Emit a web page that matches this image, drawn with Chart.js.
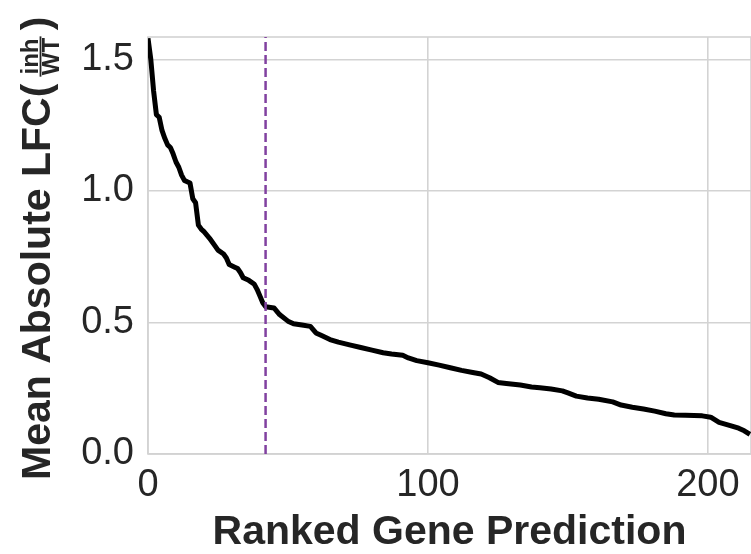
<!DOCTYPE html>
<html>
<head>
<meta charset="utf-8">
<title>Ranked gene predictions</title>
<script src="https://cdn.jsdelivr.net/npm/chart.js@4.4.1/dist/chart.umd.min.js"></script>
<style>
    html, body { margin: 0; padding: 0; background: #fff; }
    #wrap { width: 751px; height: 554px; }
</style>
</head>
<body>
<div id="wrap"><canvas id="lfcChart" width="751" height="554"></canvas></div>
<script>
// rank of each gene prediction and its mean absolute LFC (inh / WT)
const ranks = [0, 1, 2, 3, 4, 5, 6, 7, 8, 9, 10, 11, 12, 13, 14, 15, 16, 17, 18, 19,
    20, 22, 24, 25, 27, 28, 29, 31, 32, 33, 34, 36, 38, 39, 40, 41, 42, 45, 47, 50,
    52, 55, 58, 60, 62, 65, 68, 72, 76, 80, 84, 87, 91, 93, 96, 100, 104, 108, 112, 116,
    119, 122, 125, 128, 133, 137, 140, 144, 148, 150, 153, 157, 161, 166, 169, 173, 177, 181, 185, 188,
    192, 198, 201, 204, 208, 211, 213, 215]
const meanAbsLfc = [1.58, 1.50, 1.38, 1.29, 1.28, 1.23, 1.20, 1.175, 1.165, 1.14, 1.11, 1.09, 1.06, 1.04, 1.035, 1.03, 0.97, 0.955, 0.87, 0.855,
    0.845, 0.82, 0.79, 0.775, 0.76, 0.745, 0.72, 0.71, 0.705, 0.69, 0.67, 0.66, 0.645, 0.625, 0.60, 0.575, 0.56, 0.555, 0.53, 0.505,
    0.495, 0.49, 0.485, 0.46, 0.45, 0.435, 0.425, 0.415, 0.405, 0.395, 0.385, 0.38, 0.375, 0.365, 0.355, 0.347, 0.338, 0.328, 0.318, 0.31,
    0.304, 0.29, 0.272, 0.268, 0.262, 0.255, 0.252, 0.247, 0.24, 0.232, 0.22, 0.213, 0.208, 0.198, 0.186, 0.178, 0.171, 0.163, 0.153, 0.148,
    0.147, 0.145, 0.14, 0.12, 0.108, 0.098, 0.088, 0.075]
const cutoffRank = 42
const xTicks = [0, 100, 200]
const yTicks = [0.0, 0.5, 1.0, 1.5]
const xMax = 215.4
const yMax = 1.585

const textColor = '#262626'
const gridColor = '#d3d3d3'
const fontFamily = '"Liberation Sans", Arial, Helvetica, sans-serif'

// titles drawn by hand so the y title can carry the inh/WT fraction
const axisTitles = {
    id: 'axisTitles',
    beforeDatasetsDraw(chart) {
        const ctx = chart.ctx
        const area = chart.chartArea
        ctx.save()
        ctx.strokeStyle = gridColor
        ctx.lineWidth = 1.6
        ctx.strokeRect(area.left, area.top, area.right - area.left, area.bottom - area.top)
        ctx.restore()
    },
    afterDraw(chart) {
        const ctx = chart.ctx
        const area = chart.chartArea
        ctx.save()
        ctx.fillStyle = textColor
        ctx.strokeStyle = textColor
        ctx.textBaseline = 'alphabetic'

        ctx.font = 'bold 41px ' + fontFamily
        ctx.textAlign = 'center'
        ctx.fillText('Ranked Gene Prediction', (area.left + area.right) / 2, 544)

        ctx.translate(50, 480)
        ctx.rotate(-Math.PI / 2)
        ctx.textAlign = 'left'
        const head = 'Mean Absolute LFC('
        ctx.fillText(head, 0, 0)
        let pos = ctx.measureText(head).width + 7

        ctx.font = 'bold 24px ' + fontFamily
        const num = 'inh', den = 'WT'
        const fw = Math.max(ctx.measureText(num).width, ctx.measureText(den).width) + 3
        ctx.textAlign = 'center'
        ctx.fillText(num, pos + fw / 2, -12.5)
        ctx.fillText(den, pos + fw / 2, 9)
        ctx.lineWidth = 1.8
        ctx.beginPath()
        ctx.moveTo(pos, -9.5)
        ctx.lineTo(pos + fw, -9.5)
        ctx.stroke()
        pos += fw + 6

        ctx.font = 'bold 41px ' + fontFamily
        ctx.textAlign = 'left'
        ctx.fillText(')', pos, 0)
        ctx.restore()
    }
}

new Chart('lfcChart', {
    type: 'line',
    data: {
        datasets: [{
            data: [{ x: cutoffRank, y: 0 }, { x: cutoffRank, y: yMax }],
            borderColor: '#8141a0',
            borderWidth: 2.5,
            borderDash: [9, 4],
            pointRadius: 0,
            order: 0
        }, {
            data: ranks.map((r, i) => ({ x: r, y: meanAbsLfc[i] })),
            borderColor: '#000000',
            borderWidth: 5,
            borderJoinStyle: 'round',
            pointRadius: 0,
            tension: 0,
            order: 1
        }]
    },
    options: {
        responsive: false,
        devicePixelRatio: 1,
        animation: false,
        layout: { padding: { top: 37, right: 0, left: 0, bottom: 0 } },
        plugins: {
            legend: { display: false },
            tooltip: { enabled: false }
        },
        scales: {
            x: {
                type: 'linear',
                min: 0,
                max: xMax,
                afterBuildTicks: (scale) => { scale.ticks = xTicks.map(v => ({ value: v })) },
                afterFit: (scale) => { scale.height = 100 },
                grid: { color: gridColor, lineWidth: 1.6, drawTicks: false },
                border: { display: false },
                ticks: {
                    color: textColor,
                    font: { family: fontFamily, size: 38 },
                    padding: 9,
                    maxRotation: 0,
                    callback: (v) => String(v)
                }
            },
            y: {
                type: 'linear',
                min: 0,
                max: yMax,
                afterBuildTicks: (scale) => { scale.ticks = yTicks.map(v => ({ value: v })) },
                afterFit: (scale) => { scale.width = 148 },
                grid: { color: gridColor, lineWidth: 1.6, drawTicks: false },
                border: { display: false },
                ticks: {
                    color: textColor,
                    font: { family: fontFamily, size: 38 },
                    padding: 14,
                    callback: (v) => v.toFixed(1)
                }
            }
        }
    },
    plugins: [axisTitles]
})
</script>
</body>
</html>
